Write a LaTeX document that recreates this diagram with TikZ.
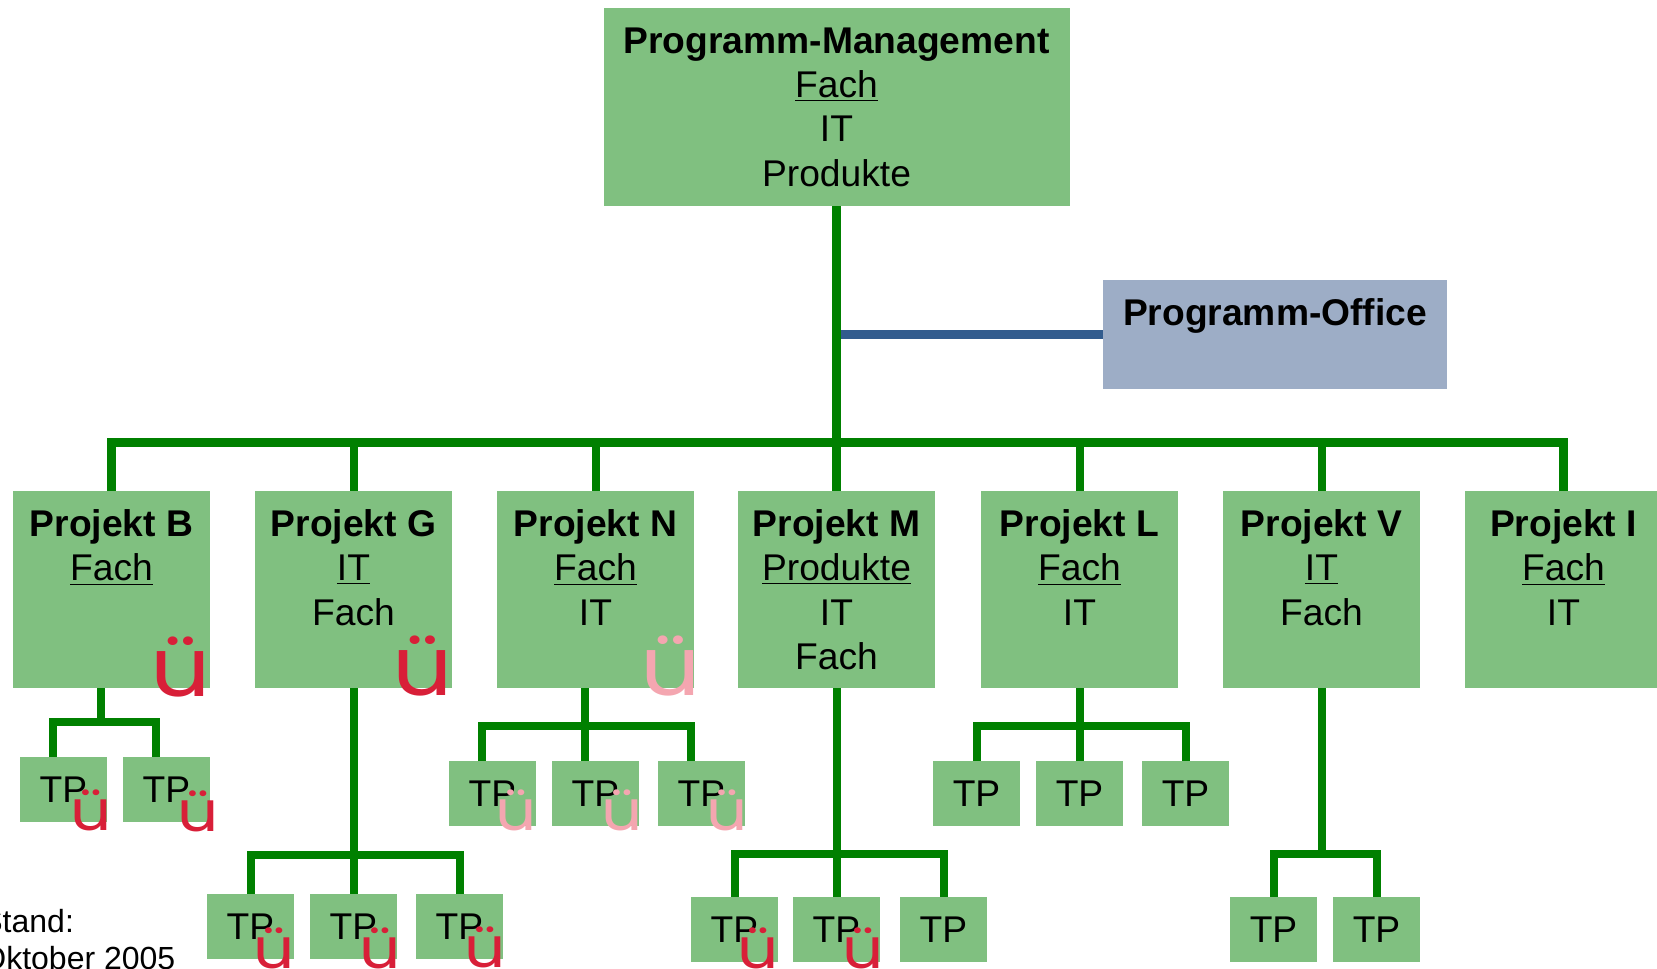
\documentclass[tikz,border=0pt]{standalone}
\usepackage{fontspec}
\setmainfont{Liberation Sans}
\newfontfamily\smilefont[FakeStretch=1.15]{Poppins}
\definecolor{boxgreen}{HTML}{80C080}
\definecolor{linegreen}{HTML}{008000}
\definecolor{officeblue}{HTML}{9DADC6}
\definecolor{lineblue}{HTML}{325C8E}
\definecolor{smilered}{HTML}{D81F38}
\definecolor{smilepink}{HTML}{F4A6B0}
\tikzstyle{main}=[fill=boxgreen, inner sep=0pt, align=center, minimum width=233pt, minimum height=99pt]
\tikzstyle{office}=[fill=officeblue, inner sep=0pt, align=center, minimum width=172pt, minimum height=54.5pt]
\tikzstyle{proj}=[fill=boxgreen, inner sep=0pt, align=center, minimum width=98.5pt, minimum height=98.5pt]
\tikzstyle{tp}=[fill=boxgreen, inner sep=0pt, minimum width=43.5pt, minimum height=32.5pt]
\tikzstyle{bus}=[draw=linegreen, line width=4pt]
\tikzstyle{smile}=[inner sep=0pt, anchor=base, text=smilered, font=\smilefont\fontsize{28}{28}\selectfont]
\tikzstyle{bigsmile}=[smile, font=\smilefont\fontsize{41}{41}\selectfont]
\tikzstyle{pale}=[text=smilepink]
\begin{document}
\begin{tikzpicture}[x=0.5pt,y=-0.5pt,font=\fontsize{18.6}{22.2}\selectfont]
				\useasboundingbox (0,0) rectangle (1657,968);
				
				%The top boxes
				\draw (836.5,107) node[main] (prog) {\textbf{Programm-Management}\\\underline{Fach}\\IT\\Produkte};
				\draw (1275,334.5) node[office] (po) {\textbf{Programm-Office}\\~};
				
				%The projects
				\draw (111.5,589.5) node[proj] (pb) {\textbf{Projekt B}\\\underline{Fach}\\~\\~};
				\draw (353.5,589.5) node[proj] (pg) {\textbf{Projekt G}\\\underline{IT}\\Fach\\~};
				\draw (595.5,589.5) node[proj] (pn) {\textbf{Projekt N}\\\underline{Fach}\\IT\\~};
				\draw (836.5,589.5) node[proj] (pm) {\textbf{Projekt M}\\\underline{Produkte}\\IT\\Fach};
				\draw (1079.5,589.5) node[proj] (pl) {\textbf{Projekt L}\\\underline{Fach}\\IT\\~};
				\draw (1321.5,589.5) node[proj] (pv) {\textbf{Projekt V}\\\underline{IT}\\Fach\\~};
				\draw (1563.5,589.5) node[proj] (pi) {\textbf{Projekt I}\\\underline{Fach}\\IT\\~};
				
				%The TP boxes
				\draw (63.5,789.5) node[tp] (tb1) {TP};
				\draw (166.5,789.5) node[tp] (tb2) {TP};
				\draw (250.5,926.5) node[tp] (tg1) {TP};
				\draw (353.5,926.5) node[tp] (tg2) {TP};
				\draw (459.5,926.5) node[tp] (tg3) {TP};
				\draw (492.5,793.5) node[tp] (tn1) {TP};
				\draw (595.5,793.5) node[tp] (tn2) {TP};
				\draw (701.5,793.5) node[tp] (tn3) {TP};
				\draw (734.5,929.5) node[tp] (tm1) {TP};
				\draw (836.5,929.5) node[tp] (tm2) {TP};
				\draw (943.5,929.5) node[tp] (tm3) {TP};
				\draw (976.5,793.5) node[tp] (tl1) {TP};
				\draw (1079.5,793.5) node[tp] (tl2) {TP};
				\draw (1185.5,793.5) node[tp] (tl3) {TP};
				\draw (1273.5,929.5) node[tp] (tv1) {TP};
				\draw (1376.5,929.5) node[tp] (tv2) {TP};
				
				%The top connectors
				\draw[bus, draw=lineblue, line width=4.5pt] (po.west) -- (prog.south |- po.west);
				\draw[bus, line width=4.5pt] (prog.south) -- (pm.north);
				\draw[bus, line width=4.5pt] (pb.north) -- ++(0,-48) -| (pi.north);
				\foreach \p in {pg,pn,pl,pv}
					\draw[bus] (\p.north) -- ++(0,-48);
				
				%The TP connectors
				\draw[bus] ([xshift=-5.25pt]tb1.north) -- ++(0,-35) -| ([xshift=-5.25pt]tb2.north);
				\draw[bus] ([xshift=-5.25pt]pb.south) -- ++(0,34);
				\draw[bus] (tg1.north) -- ++(0,-39) -| (tg3.north);
				\draw[bus] (pg.south) -- (tg2.north);
				\draw[bus] ([xshift=-5.25pt]tn1.north) -- ++(0,-35) -| ([xshift=-5.25pt]tn3.north);
				\draw[bus] ([xshift=-5.25pt]pn.south) -- ([xshift=-5.25pt]tn2.north);
				\draw[bus] (tm1.north) -- ++(0,-43) -| (tm3.north);
				\draw[bus] (pm.south) -- (tm2.north);
				\draw[bus] (tl1.north) -- ++(0,-35) -| (tl3.north);
				\draw[bus] (pl.south) -- (tl2.north);
				\draw[bus] (tv1.north) -- ++(0,-43) -| (tv2.north);
				\draw[bus] (pv.south) -- ++(0,165);
				
				%The marks
				\draw (181,696) node[bigsmile] (sb) {ü};
				\draw (423,695) node[bigsmile] (sg) {ü};
				\draw (671,695) node[bigsmile, pale] (sn) {ü};
				\draw (91.5,830) node[smile] (sb1) {ü};
				\draw (198,831) node[smile] (sb2) {ü};
				\draw (274,968) node[smile] (sg1) {ü};
				\draw (380,968) node[smile] (sg2) {ü};
				\draw (485,967) node[smile] (sg3) {ü};
				\draw (516,830) node[smile, pale] (sn1) {ü};
				\draw (622,830) node[smile, pale] (sn2) {ü};
				\draw (727,830) node[smile, pale] (sn3) {ü};
				\draw (758,968) node[smile] (sm1) {ü};
				\draw (863,968) node[smile] (sm2) {ü};
				
				%The date
				\draw (-19,939.5) node[anchor=west, align=left, inner sep=0pt, font=\fontsize{16}{18.5}\selectfont] (stand) {Stand:\\Oktober 2005};
			\end{tikzpicture}
\end{document}
